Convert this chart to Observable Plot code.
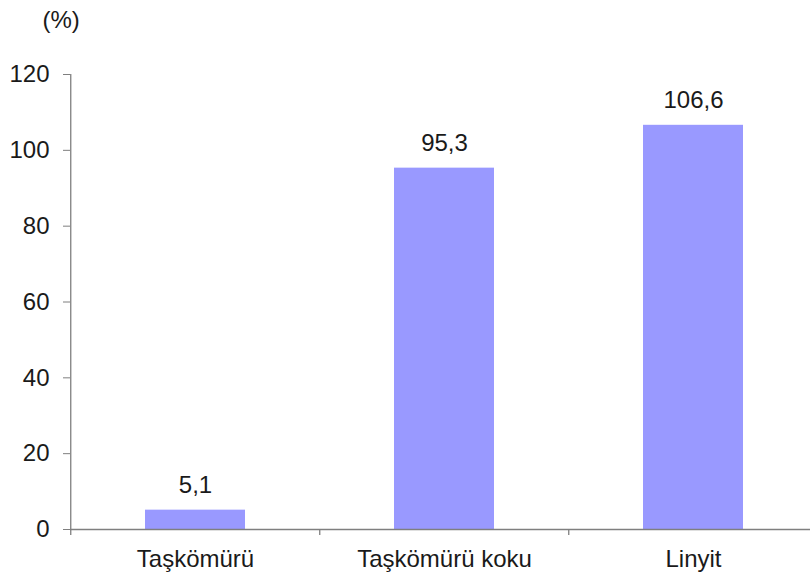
<!DOCTYPE html>
<html>
<head>
<meta charset="utf-8">
<script src="https://cdn.jsdelivr.net/npm/d3@7"></script>
<script src="https://cdn.jsdelivr.net/npm/@observablehq/plot@0.6"></script>
<style>
  html, body { margin: 0; padding: 0; background: #fff; }
  svg { display: block; }
</style>
</head>
<body>
<div id="chart"></div>
<script>
const categories = ["Taşkömürü", "Taşkömürü koku", "Linyit"];
const values = [5.1, 95.3, 106.6];
const yTicks = [0, 20, 40, 60, 80, 100, 120];
const unitLabel = "(%)";

const data = categories.map((c, i) => ({category: c, value: values[i]}));
const fmt = v => v.toFixed(1).replace(".", ",");

const W = 810, H = 573;
const mL = 70, mT = 74, mB = 44;
const xRange = [70, 818.5];
const step = (xRange[1] - xRange[0]) / 3;
const textColor = "#1a1a1a";
const axisColor = "#7f7f7f";

const chart = Plot.plot({
  width: W,
  height: H,
  marginLeft: mL,
  marginRight: 0,
  marginTop: mT,
  marginBottom: mB,
  style: {fontFamily: "'Liberation Sans', Arial, sans-serif", fontSize: "24px", color: textColor, background: "#fff"},
  x: {type: "band", domain: categories, range: xRange, paddingInner: 0.6, paddingOuter: 0.3},
  y: {domain: [0, 120]},
  marks: [
    Plot.barY(data, {x: "category", y: "value", fill: "#9999ff"}),
    Plot.ruleY([0], {stroke: axisColor, strokeWidth: 1.3}),
    Plot.ruleX([categories[0]], {y1: 0, y2: 120, dx: -step / 2, stroke: axisColor, strokeWidth: 1.3}),
    Plot.ruleX(categories, {x: d => d, y1: 0, y2: -1.6, dx: -step / 2, stroke: axisColor, strokeWidth: 1.3}),
    Plot.axisY({ticks: yTicks, tickSize: 7, tickPadding: 14, tickFormat: d => d, label: null, stroke: axisColor, fill: textColor, fontSize: 24}),
    Plot.axisX({tickSize: 0, tickPadding: 20, label: null, fill: textColor, fontSize: 24}),
    Plot.text(data, {x: "category", y: "value", text: d => fmt(d.value), lineAnchor: "bottom", dy: -17, fill: textColor, fontSize: 24}),
    Plot.text([unitLabel], {frameAnchor: "top-left", textAnchor: "start", lineAnchor: "top", dx: -28, dy: -64, text: d => d, fill: textColor, fontSize: 24})
  ]
});
document.getElementById("chart").appendChild(chart);
</script>
</body>
</html>
